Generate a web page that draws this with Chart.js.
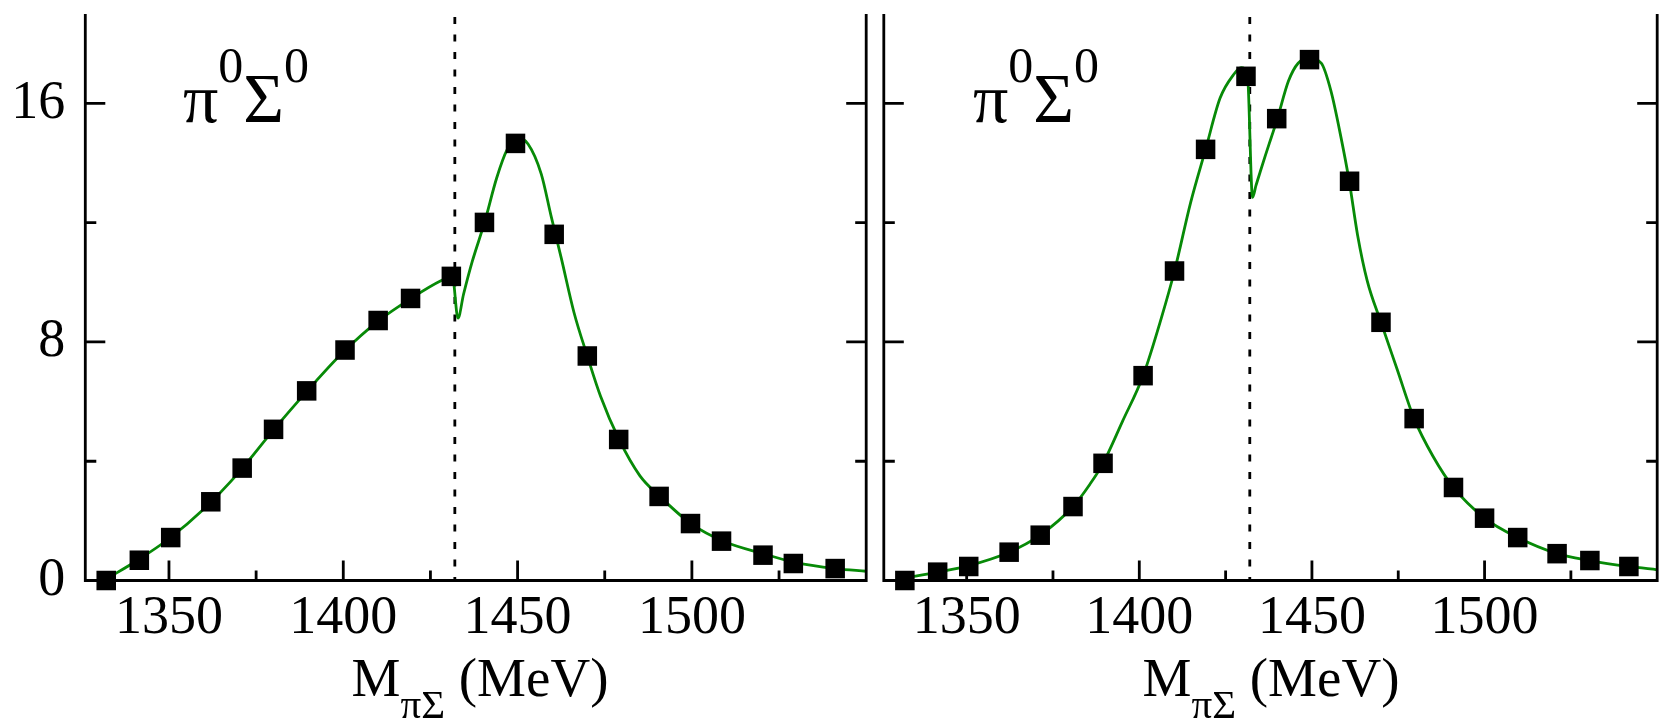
<!DOCTYPE html>
<html>
<head>
<meta charset="utf-8">
<title>pi0 Sigma0 mass distribution</title>
<script src="https://cdn.jsdelivr.net/npm/chart.js@4.4.1/dist/chart.umd.min.js"></script>
<style>
  body { margin: 0; background: #fff; width: 1671px; height: 723px; overflow: hidden; position: relative; font-family: 'Liberation Serif', 'Times New Roman', serif; color: #000; }
  canvas { position: absolute; top: 0; }
  #leftChart { left: 0; }
  #rightChart { left: 870px; }
  .tag { position: absolute; top: 64px; font-size: 70px; line-height: 70px; white-space: nowrap; }
  .tag .sup { font-size: 50px; position: relative; top: -40px; }
  .xtitle { position: absolute; top: 650px; font-size: 55px; line-height: 55px; text-align: center; white-space: nowrap; }
  .xtitle .sub { font-size: 41px; position: relative; top: 22px; }
</style>
</head>
<body>
<canvas id="leftChart" width="880" height="723"></canvas>
<canvas id="rightChart" width="801" height="723"></canvas>

<div class="tag" style="left:183px">π<span class="sup">0</span>Σ<span class="sup">0</span></div>
<div class="tag" style="left:973px">π<span class="sup">0</span>Σ<span class="sup">0</span></div>
<div class="xtitle" style="left:85px; width:790px">M<span class="sub">πΣ</span> (MeV)</div>
<div class="xtitle" style="left:875px; width:792px">M<span class="sub">πΣ</span> (MeV)</div>

<script>
// axis ranges / ticks
const xMin = 1326, xMax = 1550;
const yMin = 0, yMax = 19;
const xMajor = [1350, 1400, 1450, 1500];
const xMinor = [1375, 1425, 1475, 1525];
const yLabels = [0, 8, 16];
const yMinor = [4, 12];
const threshold = 1432;

// left panel: data points
const massL = [1332, 1341.5, 1350.5, 1362, 1371, 1380, 1389.5, 1400.5, 1410, 1419.3, 1431, 1440.5, 1449.4, 1460.5, 1470, 1479, 1490.6, 1499.6, 1508.5, 1520.4, 1529.1, 1541.1];
const countsL = [0.0, 0.68, 1.44, 2.64, 3.77, 5.07, 6.36, 7.73, 8.72, 9.46, 10.2, 12.01, 14.66, 11.61, 7.53, 4.73, 2.82, 1.91, 1.32, 0.85, 0.57, 0.40];

// left panel: model curve
const curveMassL = [1332, 1341, 1350, 1360, 1370, 1380, 1390, 1400, 1410, 1420, 1428, 1431.3, 1432.9, 1434.5, 1437, 1440.5, 1444, 1447, 1450, 1453, 1456.8, 1459.6, 1462.5, 1466.2, 1470, 1473.8, 1479.1, 1485.1, 1490.8, 1499.7, 1509.6, 1520.4, 1529.2, 1541.2, 1550];
const curveL = [0.05, 0.68, 1.4, 2.4, 3.62, 5.05, 6.4, 7.66, 8.7, 9.5, 10.05, 10.2, 8.8, 9.6, 10.7, 12.0, 13.5, 14.45, 14.85, 14.64, 13.63, 12.23, 10.83, 8.98, 7.53, 6.18, 4.73, 3.51, 2.82, 1.91, 1.29, 0.9, 0.62, 0.4, 0.31];

// right panel: data points
const massR = [1332.1, 1341.6, 1350.6, 1362.3, 1371.3, 1380.8, 1389.5, 1401.1, 1410.2, 1419.2, 1430.9, 1439.8, 1449.3, 1460.9, 1470.0, 1479.6, 1491.0, 1500.0, 1509.6, 1521.0, 1530.5, 1541.8];
const countsR = [0.0, 0.28, 0.47, 0.95, 1.52, 2.48, 3.93, 6.87, 10.38, 14.46, 16.91, 15.49, 17.47, 13.39, 8.66, 5.43, 3.12, 2.09, 1.44, 0.90, 0.67, 0.47];

// right panel: model curve
const curveMassR = [1332, 1341.6, 1350.6, 1362.3, 1371.3, 1380.8, 1385.7, 1389.5, 1395.1, 1401.1, 1406.4, 1410.2, 1414.9, 1419.2, 1423.4, 1427.2, 1429.5, 1431.3, 1432.8, 1433.8, 1435, 1436.5, 1438.2, 1439.9, 1443.2, 1446, 1449.3, 1452.7, 1455.5, 1458.4, 1460.8, 1463.2, 1466, 1470, 1474.6, 1479.6, 1485.1, 1491, 1500, 1509.6, 1521, 1530.5, 1541.8, 1550];
const curveR = [0.08, 0.28, 0.5, 0.95, 1.52, 2.48, 3.23, 3.93, 5.33, 6.87, 8.81, 10.38, 12.69, 14.46, 16.18, 16.95, 17.2, 17.0, 12.85, 13.25, 13.7, 14.25, 14.85, 15.45, 16.75, 17.35, 17.5, 17.35, 16.42, 14.87, 13.39, 11.6, 10.06, 8.66, 7.11, 5.43, 4.16, 3.12, 2.09, 1.44, 0.90, 0.67, 0.47, 0.36];

const serif = "'Liberation Serif', 'Times New Roman', serif";
Chart.defaults.font.family = serif;
Chart.defaults.color = '#000';

const toXY = (xs, ys) => xs.map((x, i) => ({ x: x, y: ys[i] }));

// axis lines and inward tick marks
const framePlugin = {
    id: 'frame',
    afterDraw(chart) {
        const { ctx, chartArea: a, scales: { x, y } } = chart;
        ctx.save();
        ctx.strokeStyle = '#000';
        ctx.lineWidth = 2.8;
        ctx.beginPath();
        ctx.moveTo(a.left, a.top);
        ctx.lineTo(a.left, a.bottom);
        ctx.lineTo(a.right, a.bottom);
        ctx.lineTo(a.right, a.top);
        ctx.stroke();

        ctx.beginPath();
        yLabels.concat(yMinor).forEach(v => {
            const py = y.getPixelForValue(v);
            const len = yLabels.includes(v) ? 20 : 11;
            ctx.moveTo(a.left, py); ctx.lineTo(a.left + len, py);
            ctx.moveTo(a.right, py); ctx.lineTo(a.right - len, py);
        });
        xMajor.concat(xMinor).forEach(v => {
            const px = x.getPixelForValue(v);
            const len = xMajor.includes(v) ? 20 : 10;
            ctx.moveTo(px, a.bottom); ctx.lineTo(px, a.bottom - len);
        });
        ctx.stroke();
        ctx.restore();
    }
};

function makePanel(canvasId, mass, counts, curveMass, curve, showYLabels, pad, yWidth) {
    const cfg = {
        type: 'scatter',
        data: {
            datasets: [{
                data: toXY(mass, counts),
                pointStyle: 'rect',
                pointRadius: 13.8,
                backgroundColor: '#000',
                borderWidth: 0,
                clip: false
            }, {
                data: toXY(curveMass, curve),
                showLine: true,
                borderColor: '#078a07',
                borderWidth: 2.8,
                cubicInterpolationMode: 'monotone',
                pointRadius: 0,
                clip: false
            }, {
                data: [{ x: threshold, y: 18.9 }, { x: threshold, y: 0 }],
                showLine: true,
                borderColor: '#000',
                borderWidth: 2.8,
                borderDash: [7, 10.5],
                pointRadius: 0,
                clip: false
            }]
        },
        options: {
            responsive: false,
            animation: false,
            events: [],
            layout: { padding: pad },
            plugins: {
                legend: { display: false },
                tooltip: { enabled: false }
            },
            scales: {
                x: {
                    type: 'linear',
                    min: xMin,
                    max: xMax,
                    grid: { display: false, drawTicks: false },
                    border: { display: false },
                    ticks: {
                        stepSize: 50,
                        includeBounds: false,
                        autoSkip: false,
                        maxRotation: 0,
                        padding: 6,
                        color: '#000',
                        font: { size: 54, family: serif },
                        callback: v => xMajor.includes(v) ? String(v) : ''
                    },
                    afterFit: s => { s.height = 142.5; s.paddingLeft = 0; s.paddingRight = 0; }
                },
                y: {
                    min: yMin,
                    max: yMax,
                    grid: { display: false, drawTicks: false },
                    border: { display: false },
                    ticks: {
                        display: showYLabels,
                        stepSize: 4,
                        includeBounds: false,
                        padding: 20,
                        color: '#000',
                        font: { size: 54, family: serif },
                        callback: v => yLabels.includes(v) ? String(v) : ''
                    },
                    afterFit: s => { s.width = yWidth; s.paddingTop = 0; s.paddingBottom = 0; }
                }
            }
        },
        plugins: [framePlugin]
    };
    return new Chart(document.getElementById(canvasId), cfg);
}

makePanel('leftChart', massL, countsL, curveMassL, curveL, true, { top: 14, right: 5.5, left: 0, bottom: 0 }, 85.3);
makePanel('rightChart', massR, countsR, curveMassR, curveR, false, { top: 14, right: 4.3, left: 0, bottom: 0 }, 4.5);
</script>
</body>
</html>
